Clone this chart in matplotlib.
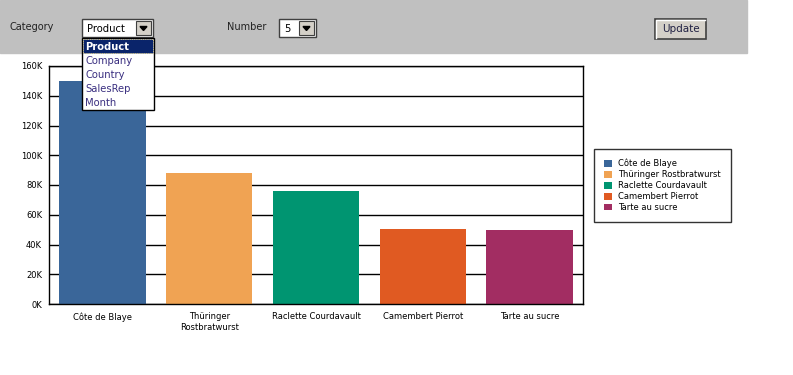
import matplotlib
matplotlib.use("Agg")
import matplotlib.pyplot as plt
from matplotlib.patches import Rectangle, Polygon
from matplotlib.ticker import FuncFormatter

products = ["Côte de Blaye", "Thüringer Rostbratwurst", "Raclette Courdavault",
            "Camembert Pierrot", "Tarte au sucre"]
tick_labels = ["Côte de Blaye", "Thüringer\nRostbratwurst", "Raclette Courdavault",
               "Camembert Pierrot", "Tarte au sucre"]
sales = [149984, 87736, 76296, 50286, 49828]
colors = ["#3a6699", "#f0a353", "#009571", "#e05a22", "#a22d62"]
category_options = ["Product", "Company", "Country", "SalesRep", "Month"]

plt.rcParams['font.family'] = ['DejaVu Sans']

fig = plt.figure(figsize=(7.93, 3.75), dpi=100)
W, H = 793, 375

ax = fig.add_axes([49 / W, 1 - 304 / H, (583 - 49) / W, (304 - 66) / H])
x = range(len(products))
bars = ax.bar(x, sales, width=0.81, color=colors, label=products, zorder=2)
ax.set_xlim(-0.5, len(products) - 0.5)
ax.set_ylim(0, 160000)
ax.set_yticks(range(0, 160001, 20000))
ax.yaxis.set_major_formatter(FuncFormatter(lambda v, p: f"{v / 1000:.0f}K"))
ax.set_xticks(list(x))
ax.set_xticklabels(tick_labels, fontsize=6)
ax.tick_params(axis='y', length=0, pad=5, labelsize=6)
ax.tick_params(axis='x', length=0, pad=6)
ax.grid(axis='y', color='black', linewidth=1)
ax.set_axisbelow(True)
for s in ax.spines.values():
    s.set_color('black')
    s.set_linewidth(1)

leg = fig.legend(handles=bars, labels=products, loc='upper left',
                 bbox_to_anchor=(594 / W, 1 - 149 / H), fontsize=6,
                 frameon=True, fancybox=False, edgecolor='black',
                 handlelength=0.9, handleheight=0.9, handletextpad=0.8,
                 labelspacing=0.22, borderpad=1.2, borderaxespad=0)
leg.get_frame().set_linewidth(1)

# toolbar / form controls on top
ui = fig.add_axes([0, 0, 1, 1], zorder=10)
ui.set_xlim(0, W)
ui.set_ylim(H, 0)
ui.axis('off')
ui.patch.set_alpha(0)

ui.add_patch(Rectangle((0, 0), 747, 53, color='#c0c0c0', zorder=1))
ui.text(10, 27, "Category", fontsize=7, va='center', color='#222222')
ui.text(227, 27, "Number", fontsize=7, va='center', color='#222222')


def combo(x0, y0, w, h, label):
    ui.add_patch(Rectangle((x0, y0), w, h, facecolor='white', edgecolor='#404040', lw=1, zorder=2))
    ui.add_patch(Rectangle((x0 + w - 17, y0 + 2), 15, h - 4, facecolor='#d4d0c8',
                           edgecolor='#404040', lw=0.8, zorder=3))
    cx, cy = x0 + w - 9.5, y0 + h / 2
    ui.add_patch(Polygon([[cx - 3.5, cy - 1.5], [cx + 3.5, cy - 1.5], [cx, cy + 2.5]],
                         color='black', zorder=4))
    ui.text(x0 + 5, y0 + h / 2 + 0.5, label, fontsize=7.2, va='center', zorder=4)


combo(82, 19, 71, 18, category_options[0])
combo(279, 19, 37, 18, "5")

# open list
ui.add_patch(Rectangle((82, 38), 72, 72, facecolor='white', edgecolor='black', lw=1, zorder=5))
ui.add_patch(Rectangle((83, 39), 70, 14, facecolor='#0a246a', edgecolor='#e8d070',
                       lw=0.6, linestyle=':', zorder=6))
for i, opt in enumerate(category_options):
    ui.text(85, 46.5 + 14 * i, opt, fontsize=7.2, va='center', zorder=7,
            color='white' if i == 0 else '#3a2f80',
            fontweight='bold' if i == 0 else 'normal')

# update button
ui.add_patch(Rectangle((655, 19), 51, 20, facecolor='#d4d0c8', edgecolor='#404040', lw=1.2, zorder=2))
ui.plot([656, 656, 705], [38, 20, 20], color='white', lw=1, zorder=3)
ui.text(680.5, 29.5, "Update", fontsize=7.5, ha='center', va='center', color='#222244', zorder=4)

fig.savefig("out.png", dpi=100)
